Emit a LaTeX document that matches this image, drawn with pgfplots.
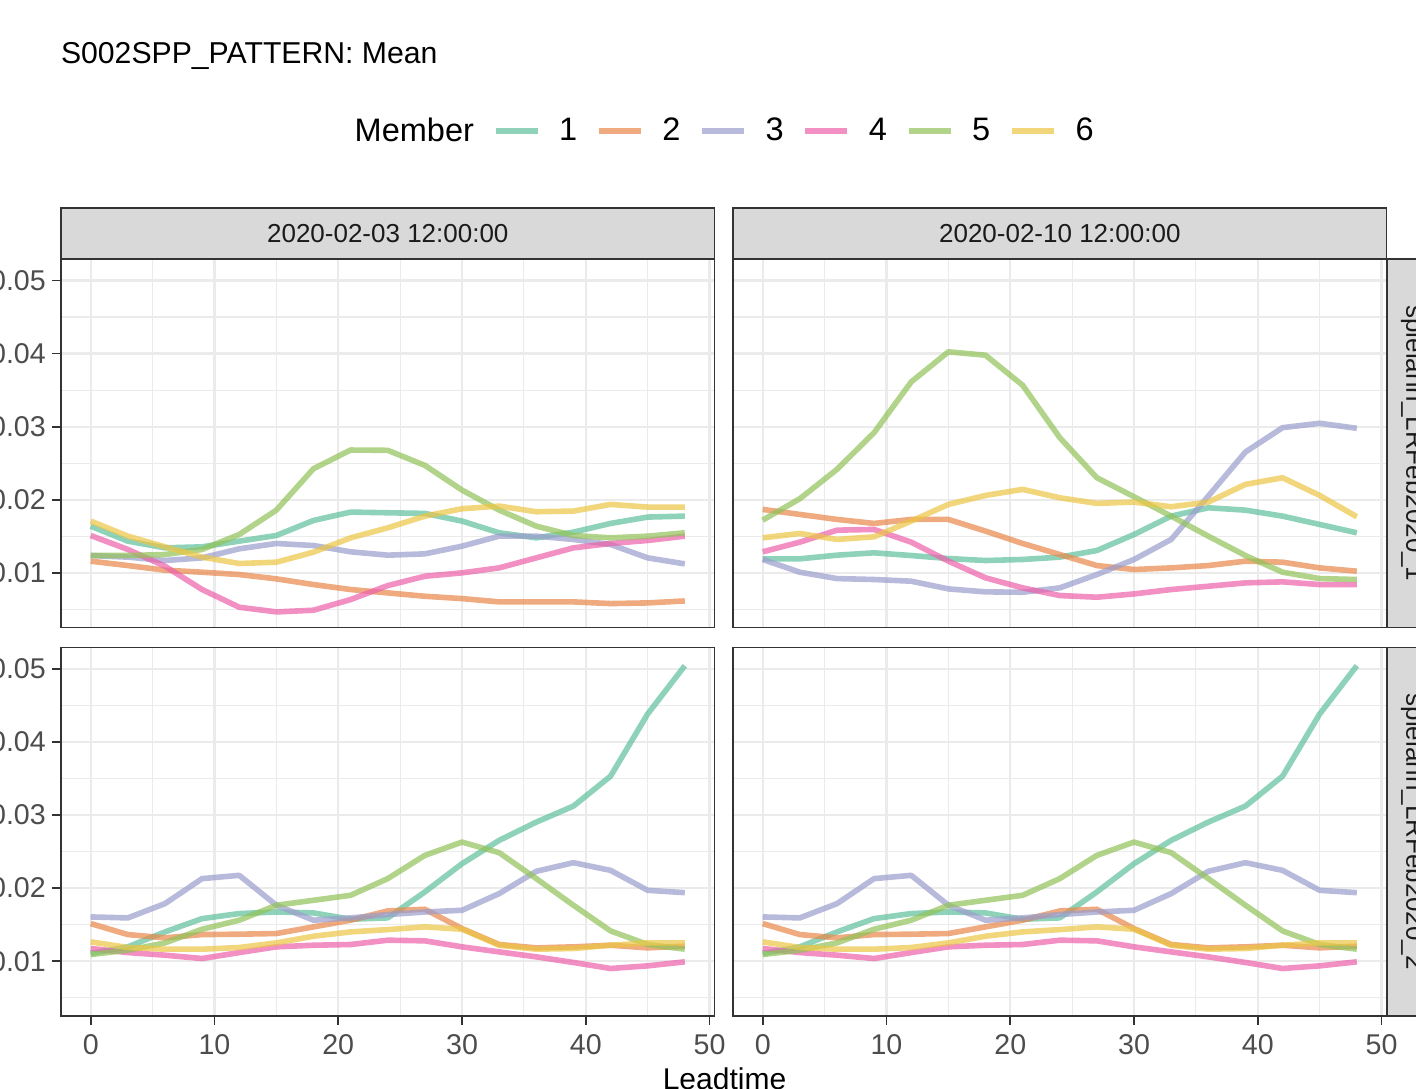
\documentclass[border=0pt]{standalone}
\usepackage{pgfplots}
\pgfplotsset{compat=1.18}
\usepackage{pgfplotstable}
\usepackage{fontspec}
\setmainfont{Liberation Sans}
\definecolor{c1}{HTML}{5EBF9C}
\definecolor{c2}{HTML}{E88748}
\definecolor{c3}{HTML}{9A9DCD}
\definecolor{c4}{HTML}{EC5FA9}
\definecolor{c5}{HTML}{91C258}
\definecolor{c6}{HTML}{ECC543}
\definecolor{gridc}{HTML}{EBEBEB}
\definecolor{framec}{HTML}{333333}
\definecolor{tickl}{HTML}{4D4D4D}
\definecolor{stripfill}{HTML}{D9D9D9}
\definecolor{striptext}{HTML}{1A1A1A}

\pgfplotstableread{
x  s1      s2      s3      s4      s5      s6
0  0.01639 0.0116  0.01237 0.01511 0.01237 0.01708
3  0.01434 0.0110  0.01215 0.0132  0.01237 0.01502
6  0.01342 0.01037 0.01169 0.01091 0.01251 0.01356
9  0.01356 0.01009 0.01205 0.00772 0.0132  0.01215
12 0.01434 0.00977 0.01329 0.0053  0.01525 0.01128
15 0.01511 0.00918 0.01402 0.00466 0.01858 0.01146
18 0.01717 0.0084  0.01374 0.00489 0.02425 0.01283
21 0.01831 0.00772 0.01288 0.00635 0.0268  0.01479
24 0.01822 0.00726 0.01242 0.00826 0.02676 0.01616
27 0.01813 0.0068  0.0126  0.00954 0.0247  0.01776
30 0.01708 0.00648 0.01365 0.0100  0.02132 0.01877
33 0.01548 0.00603 0.01502 0.01068 0.01858 0.01913
36 0.01479 0.00603 0.01502 0.01205 0.01639 0.01836
39 0.01557 0.00603 0.01457 0.01342 0.01511 0.01845
42 0.01676 0.0058  0.01388 0.01402 0.01479 0.01936
45 0.01763 0.00589 0.01205 0.01443 0.01502 0.0190
48 0.01776 0.00616 0.01123 0.01502 0.01548 0.0190
}\TL

\pgfplotstableread{
x  s1      s2      s3      s4      s5      s6
0  0.01192 0.01868 0.01183 0.01288 0.01721 0.01479
3  0.01192 0.01799 0.01009 0.0142  0.02014 0.01539
6  0.01242 0.01731 0.00922 0.01584 0.02416 0.01457
9  0.01274 0.01676 0.00909 0.01594 0.02918 0.01493
12 0.01237 0.01731 0.00886 0.0142  0.03612 0.01708
15 0.01196 0.01731 0.00781 0.0116  0.04023 0.01936
18 0.01169 0.01571 0.0074  0.00932 0.03977 0.02059
21 0.01183 0.01402 0.00735 0.00795 0.03566 0.02142
24 0.01215 0.01251 0.00795 0.0069  0.02849 0.02027
27 0.01306 0.011   0.00977 0.00667 0.02301 0.0195
30 0.01525 0.01046 0.01183 0.00712 0.02041 0.01968
33 0.01776 0.01068 0.01457 0.00772 0.01776 0.01904
36 0.0189  0.011   0.0205  0.00817 0.01502 0.01968
39 0.01858 0.0116  0.02653 0.00863 0.01237 0.0221
42 0.01776 0.01146 0.02986 0.00877 0.01009 0.02301
45 0.01662 0.01068 0.03046 0.0084  0.00922 0.02059
48 0.01548 0.01023 0.02977 0.0084  0.00909 0.01767
}\TR

\pgfplotstableread{
x  s1      s2      s3      s4      s5      s6
0  0.01105 0.01514 0.01605 0.01173 0.01091 0.01264
3  0.01196 0.01364 0.01592 0.01118 0.0115  0.01187
6  0.014   0.01319 0.01787 0.01082 0.0125  0.01164
9  0.01582 0.01364 0.02129 0.01036 0.01437 0.01164
12 0.01651 0.01369 0.02174 0.01118 0.0156  0.01187
15 0.01673 0.01378 0.01765 0.01196 0.01765 0.0125
18 0.0166  0.01469 0.0156  0.01218 0.01833 0.01341
21 0.01573 0.0156  0.01592 0.01228 0.01901 0.014
24 0.01592 0.01687 0.01637 0.01287 0.02129 0.01432
27 0.01947 0.0171  0.01673 0.01278 0.02447 0.01469
30 0.02333 0.01446 0.01696 0.01196 0.02629 0.01437
33 0.02652 0.01228 0.01924 0.01127 0.02484 0.01218
36 0.02902 0.01182 0.02229 0.01059 0.02129 0.01164
39 0.03121 0.01196 0.02347 0.00982 0.01765 0.01173
42 0.0353  0.01218 0.02242 0.009   0.01414 0.01218
45 0.04381 0.01182 0.01969 0.00936 0.01228 0.0125
48 0.05041 0.01205 0.01937 0.00991 0.01164 0.0125
}\BB

\pgfplotsset{
  panel/.style={
    scale only axis, width=326.75pt, height=184.25pt,
    xmin=-2.4, xmax=50.4, ymin=0.0025, ymax=0.0529,
    xtick={0,10,20,30,40,50}, ytick={0.01,0.02,0.03,0.04,0.05},
    minor xtick={5,15,25,35,45},
    minor ytick={0.005,0.015,0.025,0.035,0.045},
    grid=both,
    major grid style={draw=gridc, line width=1.1pt},
    minor grid style={draw=gridc, line width=0.55pt},
    minor tick length=0pt,
    tick align=outside, tick pos=left, major tick length=4.4pt,
    tick style={draw=framec, line width=0.9pt},
    axis line style={draw=framec, line width=0.7pt},
    scaled ticks=false,
    /pgf/number format/assume math mode=true,
    ticklabel style={font=\fontsize{14.3}{16}\selectfont, text=tickl, inner sep=0pt},
    yticklabel style={xshift=-3pt},
    xticklabel style={yshift=-4.5pt},
    yticklabels={0.01,0.02,0.03,0.04,0.05},
    xticklabels={0,10,20,30,40,50},
    every axis plot/.append style={line width=2.8pt, opacity=0.7, line join=round, line cap=butt, no marks},
    legend image code/.code={\draw[#1] (0pt,0pt) -- (21pt,0pt);},
  },
  notx/.style={xticklabels={}, xtick style={draw=none}},
  noty/.style={yticklabels={}, ytick style={draw=none}},
}

\begin{document}
\begin{tikzpicture}
\path[use as bounding box] (0pt,0pt) rectangle (708pt,544pt);
\clip (0pt,0pt) rectangle (708pt,544pt);

% top-left
\begin{axis}[panel, notx, anchor=south west, at={(30.5pt,230.15pt)},
  legend columns=-1,
  legend entries={Member,1,2,3,4,5,6},
  legend style={draw=none, fill=none, at={(0.4201,1.3483)}, anchor=west,
    inner sep=0pt, column sep=9.4pt,
    font=\fontsize{16.25}{18}\selectfont, nodes={inner sep=0pt}},
]
\addlegendimage{empty legend}
\addplot[c1] table[x=x,y=s1]{\TL};
\addplot[c2] table[x=x,y=s2]{\TL};
\addplot[c3] table[x=x,y=s3]{\TL};
\addplot[c4] table[x=x,y=s4]{\TL};
\addplot[c5] table[x=x,y=s5]{\TL};
\addplot[c6] table[x=x,y=s6]{\TL};
\end{axis}

% top-right
\begin{axis}[panel, notx, noty, anchor=south west, at={(366.5pt,230.15pt)}]
\addplot[c1] table[x=x,y=s1]{\TR};
\addplot[c2] table[x=x,y=s2]{\TR};
\addplot[c3] table[x=x,y=s3]{\TR};
\addplot[c4] table[x=x,y=s4]{\TR};
\addplot[c5] table[x=x,y=s5]{\TR};
\addplot[c6] table[x=x,y=s6]{\TR};
\end{axis}

% bottom-left
\begin{axis}[panel, anchor=south west, at={(30.5pt,36pt)}]
\addplot[c1] table[x=x,y=s1]{\BB};
\addplot[c2] table[x=x,y=s2]{\BB};
\addplot[c3] table[x=x,y=s3]{\BB};
\addplot[c4] table[x=x,y=s4]{\BB};
\addplot[c5] table[x=x,y=s5]{\BB};
\addplot[c6] table[x=x,y=s6]{\BB};
\end{axis}

% bottom-right
\begin{axis}[panel, noty, anchor=south west, at={(366.5pt,36pt)}]
\addplot[c1] table[x=x,y=s1]{\BB};
\addplot[c2] table[x=x,y=s2]{\BB};
\addplot[c3] table[x=x,y=s3]{\BB};
\addplot[c4] table[x=x,y=s4]{\BB};
\addplot[c5] table[x=x,y=s5]{\BB};
\addplot[c6] table[x=x,y=s6]{\BB};
\end{axis}

% strips
\draw[fill=stripfill, draw=framec, line width=0.7pt] (30.5pt,414.4pt) rectangle (357.25pt,440pt);
\draw[fill=stripfill, draw=framec, line width=0.7pt] (366.5pt,414.4pt) rectangle (693.25pt,440pt);
\node[font=\fontsize{13}{15}\selectfont, text=striptext] at (193.9pt,427.2pt) {2020-02-03 12:00:00};
\node[font=\fontsize{13}{15}\selectfont, text=striptext] at (529.9pt,427.2pt) {2020-02-10 12:00:00};
\draw[fill=stripfill, draw=framec, line width=0.7pt] (693.65pt,230.15pt) rectangle (719.3pt,414.4pt);
\draw[fill=stripfill, draw=framec, line width=0.7pt] (693.65pt,36pt) rectangle (719.3pt,220.25pt);
\node[rotate=-90, font=\fontsize{13}{15}\selectfont, text=striptext] at (706.5pt,322.3pt) {spielann\_LRFeb2020\_1};
\node[rotate=-90, font=\fontsize{13}{15}\selectfont, text=striptext] at (706.5pt,128.1pt) {spielann\_LRFeb2020\_2};

% title and axis label
\node[anchor=base west, inner sep=0pt, font=\fontsize{15.1}{17}\selectfont] at (30.3pt,512pt) {S002SPP\_PATTERN: Mean};
\node[anchor=base, inner sep=0pt, font=\fontsize{15}{17}\selectfont] at (362.25pt,-0.75pt) {Leadtime};
\end{tikzpicture}
\end{document}
